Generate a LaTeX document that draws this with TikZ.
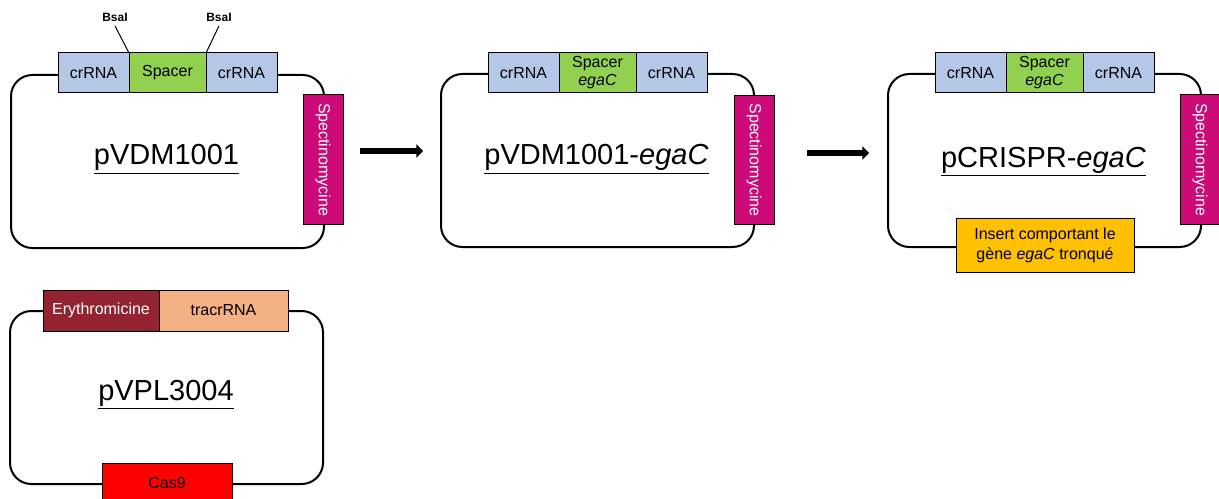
\documentclass[tikz,border=0pt]{standalone}
\usepackage{fontspec}
\setmainfont{Liberation Sans}
\usetikzlibrary{arrows.meta,positioning}

\newlength{\pxl}\setlength{\pxl}{0.75pt}
\definecolor{crblue}{HTML}{B4C7E7}
\definecolor{spgreen}{HTML}{92D050}
\definecolor{specpink}{HTML}{CC0A78}
\definecolor{erydark}{HTML}{942331}
\definecolor{tracr}{HTML}{F4B183}
\definecolor{insgold}{HTML}{FFC000}

\begin{document}
\begin{tikzpicture}[
  x=0.75pt, y=-0.75pt,
  font=\fontsize{12}{15}\selectfont,
  ring/.style={draw=black, line width=1.5pt, rounded corners=16pt, anchor=north west,
               minimum width=313\pxl, minimum height=173\pxl, inner sep=0pt},
  gene/.style={draw=black, line width=0.75pt, anchor=north west, minimum height=40\pxl,
               inner sep=0pt, outer sep=0pt, align=center},
  cr/.style={gene, fill=crblue, minimum width=71\pxl},
  sp/.style={gene, fill=spgreen, minimum width=77\pxl},
  spec/.style={gene, anchor=center, fill=specpink, text=white, rotate=-90,
               minimum width=129\pxl, minimum height=40\pxl},
  title/.style={anchor=base, font=\fontsize{21.75}{26}\selectfont},
  flow/.style={-{Triangle[length=5pt,width=10pt]}, line width=4.5pt}
]
\useasboundingbox (0,0) rectangle (1219,499);

% pVDM1001
\node[ring] (p1) at (10,74) {};
\node[cr] (c1a) at (58,53) {crRNA};
\node[sp, right=0pt of c1a] (s1x) {Spacer};
\node[cr, right=0pt of s1x] (c1b) {crRNA};
\node[spec] (s1) at (323,159.5) {Spectinomycine};
\node[title] (t1) at (166.5,165) {\underline{pVDM1001}};
\node[font=\fontsize{9}{10}\selectfont\bfseries] (b1) at (115,17) {BsaI};
\node[font=\fontsize{9}{10}\selectfont\bfseries] (b2) at (219,17) {BsaI};
\draw[line width=0.75pt] (b1.south) -- (s1x.north west);
\draw[line width=0.75pt] (b2.south) -- (s1x.north east);

% pVDM1001-egaC
\node[ring] (p2) at (440,73) {};
\node[cr] (c2a) at (488,53) {crRNA};
\node[sp, right=0pt of c2a, font=\fontsize{12}{13.5}\selectfont] (s2x) {Spacer\\\textit{egaC}};
\node[cr, right=0pt of s2x] (c2b) {crRNA};
\node[spec] (s2) at (754,160) {Spectinomycine};
\node[title] (t2) at (596.5,165) {\underline{pVDM1001-\textit{egaC}}};

% pCRISPR-egaC
\node[ring] (p3) at (887,73) {};
\node[cr] (c3a) at (935,53) {crRNA};
\node[sp, right=0pt of c3a, font=\fontsize{12}{13.5}\selectfont] (s3x) {Spacer\\\textit{egaC}};
\node[cr, right=0pt of s3x] (c3b) {crRNA};
\node[spec] (s3) at (1200,159.5) {Spectinomycine};
\node[gene, anchor=center, fill=insgold, minimum width=178\pxl, minimum height=54\pxl]
  (ins) at (1045,245) {Insert comportant le\\gène \textit{egaC} tronqué};
\node[title] (t3) at (1043.5,167) {\underline{pCRISPR-\textit{egaC}}};

% pVPL3004
\node[ring] (p4) at (9,310) {};
\node[gene, fill=erydark, text=white, minimum width=116\pxl, minimum height=41\pxl] (ery) at (43,290) {Erythromicine};
\node[gene, fill=tracr, right=0pt of ery, minimum width=129\pxl, minimum height=41\pxl] (tra) {tracrRNA};
\node[gene, anchor=center, fill=red, minimum width=130\pxl] (cas) at (167,483) {Cas9};
\node[title] (t4) at (166,400) {\underline{pVPL3004}};

\draw[flow, shorten <=17\pxl, shorten >=17\pxl] (s1.north |- 0,151) -- (p2.west |- 0,151);
\draw[flow, shorten <=33\pxl, shorten >=18\pxl] (s2.north |- 0,153) -- (p3.west |- 0,153);
\end{tikzpicture}
\end{document}
